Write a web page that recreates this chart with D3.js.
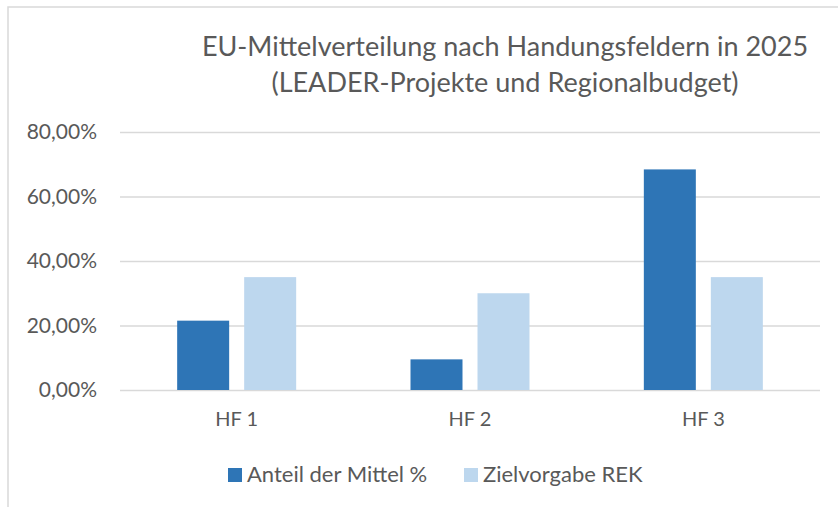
<!DOCTYPE html>
<html>
<head>
<meta charset="utf-8">
<script src="https://d3js.org/d3.v7.min.js"></script>
<style>
  body { margin: 0; background: #fff; }
  svg text { font-family: Lato, "Open Sans", sans-serif; fill: #595959; }
</style>
</head>
<body>
<svg id="chart" width="838" height="507"></svg>
<script>
// chart data
const categories = ['HF 1', 'HF 2', 'HF 3'];
const seriesNames = ['Anteil der Mittel %', 'Zielvorgabe REK'];
const anteil = [0.215, 0.095, 0.684];
const zielvorgabe = [0.35, 0.30, 0.35];
const yTicks = [0, 0.2, 0.4, 0.6, 0.8];
const titleLines = ['EU-Mittelverteilung nach Handungsfeldern in 2025', '(LEADER-Projekte und Regionalbudget)'];

const colors = ['#2e75b6', '#bdd7ee'];

const svg = d3.select('#chart');
const margin = {top: 132, bottom: 117, left: 120, right: 18};
const width = +svg.attr('width');
const height = +svg.attr('height');

// outer border of chart box (cut off at the right/bottom)
svg.append('path')
  .attr('d', `M8,${height} V7 H${width}`)
  .attr('fill', 'none')
  .attr('stroke', '#d9d9d9')
  .attr('stroke-width', 1.5);

const y = d3.scaleLinear()
  .domain([0, 0.8])
  .range([height - margin.bottom, margin.top]);

const x0 = d3.scaleBand()
  .domain(categories)
  .range([margin.left, width - margin.right])
  .paddingInner(0.49)
  .paddingOuter(0.245);

const x1 = d3.scaleBand()
  .domain(seriesNames)
  .range([0, x0.bandwidth()])
  .paddingInner(0.224);

// gridlines + y labels
const fmt = v => d3.format('.2f')(v * 100).replace('.', ',') + '%';
const yAxis = d3.axisLeft(y)
  .tickValues(yTicks)
  .tickFormat(fmt)
  .tickSize(-(width - margin.left - margin.right))
  .tickPadding(23);

const gy = svg.append('g')
  .attr('transform', `translate(${margin.left},0)`)
  .call(yAxis);
gy.select('.domain').remove();
gy.selectAll('.tick line').attr('stroke', '#d9d9d9').attr('stroke-width', 1.5);
gy.selectAll('.tick text')
  .attr('font-size', 21)
  .style('font-family', 'Lato, sans-serif')
  .attr('fill', '#595959');

// bars
const data = categories.map((c, i) => ({cat: c, values: [anteil[i], zielvorgabe[i]]}));
const groups = svg.append('g').selectAll('g')
  .data(data)
  .join('g')
  .attr('transform', d => `translate(${x0(d.cat)},0)`);

groups.selectAll('rect')
  .data(d => d.values.map((v, k) => ({name: seriesNames[k], v: v, k: k})))
  .join('rect')
  .attr('x', d => x1(d.name))
  .attr('y', d => y(d.v))
  .attr('width', x1.bandwidth())
  .attr('height', d => y(0) - y(d.v))
  .attr('fill', d => colors[d.k]);

// x axis labels
const xAxis = d3.axisBottom(x0).tickSize(0).tickPadding(22);
const gx = svg.append('g')
  .attr('transform', `translate(0,${y(0)})`)
  .call(xAxis);
gx.select('.domain').remove();
gx.selectAll('.tick text')
  .attr('font-size', 20)
  .style('font-family', 'Lato, sans-serif')
  .attr('fill', '#595959');

// title
svg.append('text')
  .attr('text-anchor', 'middle')
  .attr('font-size', 27)
  .selectAll('tspan')
  .data(titleLines)
  .join('tspan')
  .attr('x', 505)
  .attr('y', (d, i) => 56 + i * 36)
  .text(d => d);

// legend
const legendX = [228, 464];
const legend = svg.append('g')
  .selectAll('g')
  .data(seriesNames)
  .join('g')
  .attr('transform', (d, i) => `translate(${legendX[i]},468)`);
legend.append('rect')
  .attr('width', 14)
  .attr('height', 14)
  .attr('fill', (d, i) => colors[i]);
legend.append('text')
  .attr('x', 19)
  .attr('y', 14)
  .attr('font-size', 22)
  .text(d => d);
</script>
</body>
</html>
